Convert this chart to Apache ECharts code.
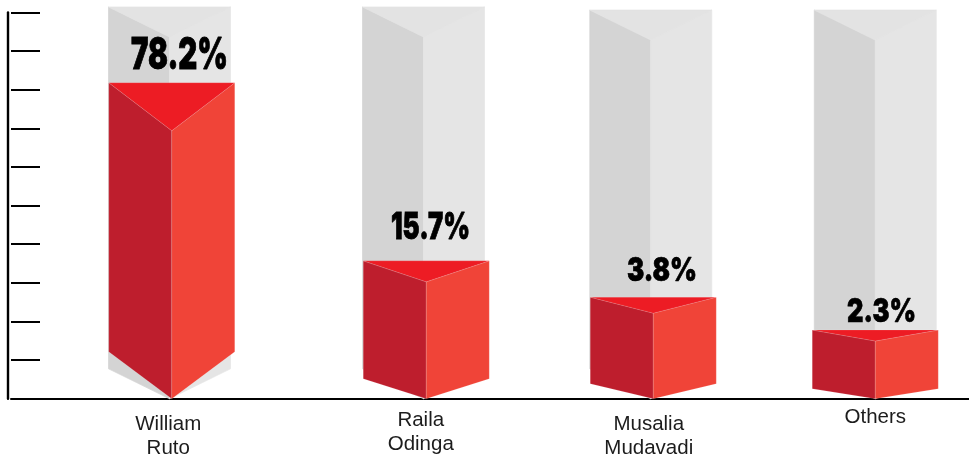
<!DOCTYPE html>
<html>
<head>
<meta charset="utf-8">
<style>html,body{margin:0;padding:0;background:#fff}#c{width:969px;height:454px}</style>
<script src="https://cdn.jsdelivr.net/npm/echarts@6/dist/echarts.min.js"></script>
</head>
<body>
<div id="c"></div>
<script>
// Data
var categories = ['William\nRuto', 'Raila\nOdinga', 'Musalia\nMudavadi', 'Others'];
var shareLabels = ['78.2%', '15.7%', '3.8%', '2.3%'];
var columnHeights = [81.8, 35.7, 26.3, 17.8];   // drawn height on the 0-100 axis
var ghostHeights = [101.4, 101.4, 100.6, 100.6]; // grey full-height column

// Layout only (pixels)
var layout = [
  {dx: 41, drop: 48, lower: 47, gdx: -2.25, text: [-3.5, 26.5], tw: 97, th: 32, tc: [179.5, 56]},
  {dx: 56, drop: 21, lower: 20, gdx: -2.75, text: [-5.5, 22.5], tw: 79, th: 27, tc: [430.5, 227.5]},
  {dx: 43.5, drop: 16, lower: 15, gdx: -2.5, text: [-4.5, 26.5], tw: 70, th: 24, tc: [662, 271]},
  {dx: 26, drop: 11, lower: 10, gdx: 0,  text: [0, 19.5],  tw: 69, th: 24, tc: [881.5, 312]}
];
var HALF = 63, GHALF = 61, GDROP = 30;
var C = {left: '#BE1E2D', right: '#F04438', top: '#ED1C24',
         gLeft: '#D4D4D4', gRight: '#E5E5E5', gTop: '#E3E3E3', seam: 'rgba(255,255,255,0.18)'};
var PCT_FONT = '900 46px "Inter"';
var measureCtx = document.createElement('canvas').getContext('2d');

function poly(points, fill, stroke) {
  return {type: 'polygon', shape: {points: points},
          style: {fill: fill, stroke: stroke || null, lineWidth: stroke ? 0.7 : 0}};
}

function renderItem(params, api) {
  var i = api.value(0), L = layout[i];
  var base = api.coord([i, 0]);
  var cx = base[0] + L.dx, by = base[1];
  var topY = api.coord([i, api.value(1)])[1];
  var gTopY = api.coord([i, api.value(2)])[1];
  var gx = cx + L.gdx;
  var children = [
    // grey column
    poly([[gx - GHALF, gTopY], [gx, gTopY + GDROP], [gx, by], [gx - GHALF, by - GDROP]], C.gLeft, C.gLeft),
    poly([[gx, gTopY + GDROP], [gx + GHALF, gTopY], [gx + GHALF, by - GDROP], [gx, by]], C.gRight, C.gRight),
    poly([[gx - GHALF, gTopY], [gx + GHALF, gTopY], [gx, gTopY + GDROP]], C.gTop, C.gTop),
    // red column
    poly([[cx - HALF, topY], [cx, topY + L.drop], [cx, by], [cx - HALF, by - L.lower]], C.left, C.seam),
    poly([[cx, topY + L.drop], [cx + HALF, topY], [cx + HALF, by - L.lower], [cx, by]], C.right, C.seam),
    poly([[cx - HALF, topY], [cx + HALF, topY], [cx, topY + L.drop]], C.top, C.seam)
  ];
  // percentage
  measureCtx.font = PCT_FONT;
  var w = measureCtx.measureText(shareLabels[i]).width;
  children.push({
    type: 'text', x: L.tc[0], y: L.tc[1],
    scaleX: L.tw / w, scaleY: L.th / 33.5,
    style: {text: shareLabels[i], font: PCT_FONT, fill: '#000', stroke: '#000', lineWidth: 1,
            align: 'center', verticalAlign: 'middle'}
  });
  // category name
  children.push({
    type: 'text', x: cx + L.text[0], y: by + L.text[1] - 13,
    style: {text: categories[i], font: '20.5px "Liberation Sans"', fill: '#1c1c1c',
            lineHeight: 24, align: 'center', verticalAlign: 'top'}
  });
  return {type: 'group', children: children};
}

var chart = echarts.init(document.getElementById('c'), null, {renderer: 'canvas'});
chart.setOption({
  animation: false,
  backgroundColor: '#fff',
  grid: {left: 11, right: 0, top: 12.4, bottom: 55.2, containLabel: false},
  xAxis: {type: 'category', data: categories,
          axisLine: {show: true, lineStyle: {color: '#000', width: 2}},
          axisTick: {show: false}, axisLabel: {show: false}},
  yAxis: [
    {type: 'value', min: 0, max: 100, interval: 10, position: 'left',
     axisLine: {show: false},
     axisTick: {show: true, inside: true, length: 29, lineStyle: {color: '#000', width: 2}},
     axisLabel: {show: false}, splitLine: {show: false}},
    {type: 'value', min: 0, max: 100, interval: 100, position: 'left', offset: 3,
     axisLine: {show: true, onZero: false, lineStyle: {color: '#000', width: 2.4}},
     axisTick: {show: false}, axisLabel: {show: false}, splitLine: {show: false}}
  ],
  series: [{
    type: 'custom', clip: false, coordinateSystem: 'cartesian2d',
    renderItem: renderItem,
    encode: {x: 0, y: 1},
    data: columnHeights.map(function (h, i) { return [i, h, ghostHeights[i]]; })
  }]
});
</script>
</body>
</html>
